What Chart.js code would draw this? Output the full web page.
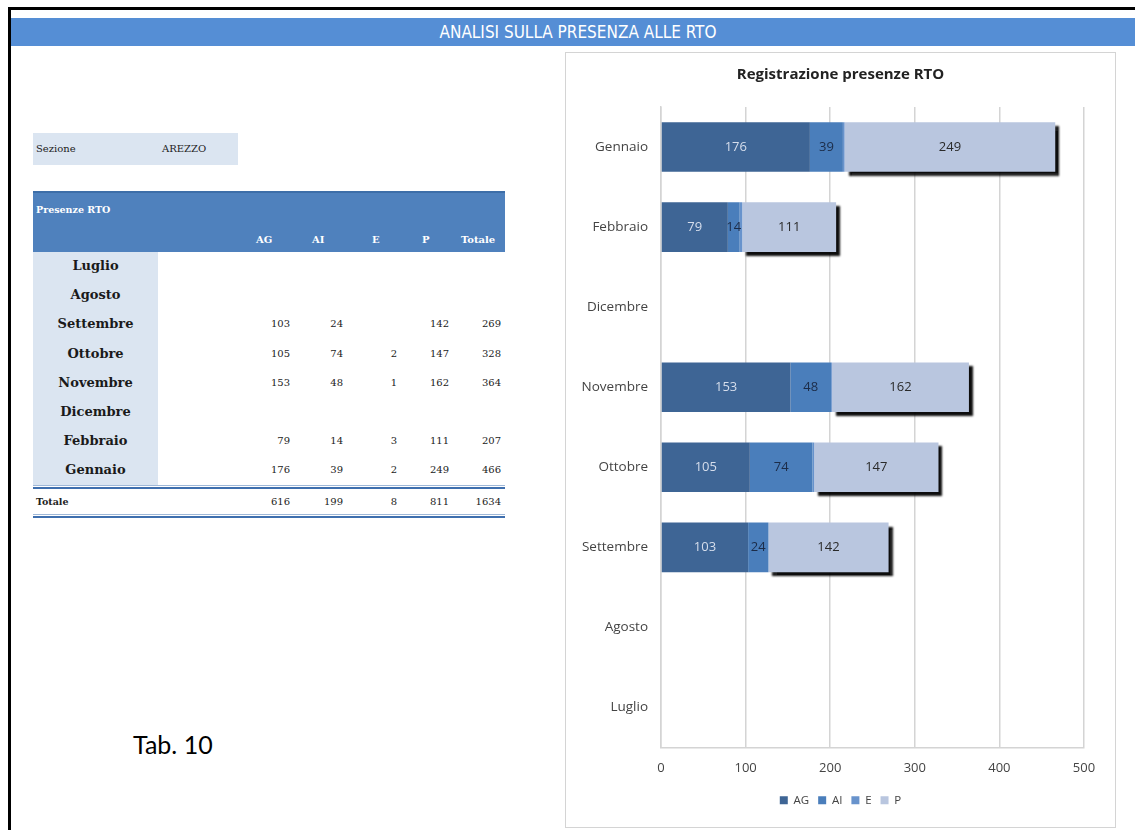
<!DOCTYPE html>
<html>
<head>
<meta charset="utf-8">
<script src="https://cdn.jsdelivr.net/npm/chart.js@4.4.0/dist/chart.umd.min.js"></script>
<style>
  html,body{margin:0;padding:0;background:#fff;}
  body{width:1135px;height:830px;position:relative;overflow:hidden;font-family:"DejaVu Serif",serif;}
  .abs{position:absolute;}
  #topline{left:8px;top:7px;width:1127px;height:3px;background:#000;}
  #leftline{left:8px;top:7px;width:3px;height:823px;background:#000;}
  #banner{left:11px;top:18px;width:1124px;height:28px;background:#558ed5;color:#fff;
    font-family:"Liberation Sans Narrow","DejaVu Sans Condensed","Liberation Sans",sans-serif;font-size:17px;
    line-height:28px;text-align:center;padding-left:10px;box-sizing:border-box;}
  #sez{left:33px;top:133px;width:205px;height:32px;background:#dbe5f1;font-size:10px;color:#222;}
  #sez span{position:absolute;top:10px;}
  #thead{left:33px;top:191px;width:472px;height:61px;background:#4f81bd;border-top:2px solid #3d6ea8;box-sizing:border-box;color:#fff;font-size:9.5px;font-weight:bold;}
  #monthcol{left:33px;top:252px;width:125px;height:233px;background:#dbe5f1;}
  .mon{position:absolute;left:33px;width:125px;text-align:center;font-weight:bold;font-size:13px;color:#1a1a1a;}
  .num{position:absolute;text-align:right;font-size:10px;color:#222;width:40px;}
  .hd{position:absolute;font-size:10px;font-weight:bold;color:#fff;}
  .dline{position:absolute;left:33px;width:472px;height:4px;border-top:1px solid #9fb8d8;border-bottom:2px solid #3f6fae;box-sizing:border-box;}
  #tab{left:133px;top:729px;font-family:Lato,"Open Sans",sans-serif;font-size:25px;color:#000;}
  #chartbox{left:565px;top:52px;width:551px;height:776px;border:1.5px solid #d4d4d4;box-sizing:border-box;}
  #cwrap{left:565px;top:52px;width:551px;height:776px;}
</style>
</head>
<body>
<div class="abs" id="topline"></div>
<div class="abs" id="leftline"></div>
<div class="abs" id="banner">ANALISI SULLA PRESENZA ALLE RTO</div>

<div class="abs" id="sez"><span style="left:3px">Sezione</span><span style="left:129px">AREZZO</span></div>

<div class="abs" id="thead"><span style="position:absolute;left:3px;top:11px;">Presenze RTO</span></div>
<div class="abs" id="monthcol"></div>
<div id="tablebody"></div>

<div class="abs" id="tab">Tab. 10</div>

<div class="abs" id="chartbox"></div>
<div class="abs" id="cwrap"><canvas id="c"></canvas></div>

<script>
// ---- data ----
const months = ["Luglio","Agosto","Settembre","Ottobre","Novembre","Dicembre","Febbraio","Gennaio"];
const seriesNames = ["AG","AI","E","P"];
const AG = [null, null, 103, 105, 153, null, 79, 176];
const AI = [null, null, 24, 74, 48, null, 14, 39];
const E  = [null, null, null, 2, 1, null, 3, 2];
const P  = [null, null, 142, 147, 162, null, 111, 249];
const Totale = [null, null, 269, 328, 364, null, 207, 466];
const totalsRow = [616, 199, 8, 811, 1634];
const xTicks = [0, 100, 200, 300, 400, 500];
const chartTitle = "Registrazione presenze RTO";

// ---- table ----
const tb = document.getElementById('tablebody');
const colRight = [290, 343, 397, 449, 501];
const hdrLeft = [256, 312, 372, 422, 461];
const hdrs = ["AG","AI","E","P","Totale"];
hdrs.forEach((h,i)=>{
  const d=document.createElement('div'); d.className='hd'; d.textContent=h;
  d.style.left=hdrLeft[i]+'px'; d.style.top='234px'; tb.appendChild(d);
});
const cols=[AG,AI,E,P,Totale];
months.forEach((m,r)=>{
  const top = 252 + r*29.2;
  const d=document.createElement('div'); d.className='mon'; d.textContent=m;
  d.style.top=(top+6)+'px'; tb.appendChild(d);
  cols.forEach((arr,c)=>{
    if(arr[r]==null) return;
    const n=document.createElement('div'); n.className='num'; n.textContent=arr[r];
    n.style.left=(colRight[c]-40)+'px'; n.style.top=(top+8)+'px'; tb.appendChild(n);
  });
});
const l1=document.createElement('div'); l1.className='dline'; l1.style.top='485px'; tb.appendChild(l1);
const l2=document.createElement('div'); l2.className='dline'; l2.style.top='514px'; tb.appendChild(l2);
const tl=document.createElement('div'); tl.className='num'; tl.style.textAlign='left'; tl.style.left='36px';
tl.style.top='496px'; tl.style.fontWeight='bold'; tl.style.fontSize='9.5px'; tl.textContent='Totale'; tb.appendChild(tl);
totalsRow.forEach((v,c)=>{
  const n=document.createElement('div'); n.className='num'; n.textContent=v;
  n.style.left=(colRight[c]-40)+'px'; n.style.top='496px'; tb.appendChild(n);
});

// ---- chart ----
const colors = ["#3e6595","#4a7ebb","#6893cc","#b9c6df"];
const labelColors = ["#d6deec","#1c2c48",null,"#2a2a2a"];
const FONT = "'Open Sans', Lato, sans-serif";

const shadowPlugin = {
  id:'shadowP',
  beforeDatasetDraw(chart,args){
    if(args.index===3){ const c=chart.ctx; c.save(); c.shadowColor='rgba(0,0,0,0.95)'; c.shadowOffsetX=4; c.shadowOffsetY=4; c.shadowBlur=2; }
  },
  afterDatasetDraw(chart,args){ if(args.index===3) chart.ctx.restore(); }
};
const labelPlugin = {
  id:'vals',
  afterDatasetsDraw(chart){
    const c=chart.ctx; c.save();
    c.font="13px "+FONT; c.textAlign='center'; c.textBaseline='middle';
    chart.data.datasets.forEach((ds,i)=>{
      if(!labelColors[i]) return;
      const meta=chart.getDatasetMeta(i);
      meta.data.forEach((el,j)=>{
        const v=ds.data[j]; if(v==null) return;
        c.fillStyle=labelColors[i];
        c.fillText(String(v),(el.x+el.base)/2,el.y);
      });
    });
    c.restore();
  }
};

new Chart(document.getElementById('c'),{
  type:'bar',
  data:{
    labels:months,
    datasets:[AG,AI,E,P].map((arr,i)=>({
      label:seriesNames[i], data:arr, backgroundColor:colors[i],
      borderWidth:0, categoryPercentage:1, barPercentage:0.62
    }))
  },
  options:{
    indexAxis:'y', responsive:true, maintainAspectRatio:false, animation:false,
    layout:{padding:{left:0,right:0,top:0,bottom:12}},
    scales:{
      x:{stacked:true,min:0,max:500,
        afterBuildTicks(s){ s.ticks = xTicks.map(v=>({value:v})); },
        afterFit(s){ s.height=38; },
        grid:{color:'#d4d4d4',lineWidth:1.5,drawTicks:false},
        border:{display:true,color:'#d4d4d4',width:1.5},
        ticks:{padding:13,color:'#444',font:{family:FONT,size:13}}
      },
      y:{stacked:true,reverse:true,
        afterFit(s){ s.width=96; },
        grid:{display:false,drawTicks:false},
        border:{display:true,color:'#d4d4d4',width:1.5},
        ticks:{padding:13,color:'#444',font:{family:FONT,size:13.5}}
      },
      yR:{type:'category',position:'right',display:true,
        afterFit(s){ s.width=32; },
        grid:{display:false,drawTicks:false},
        border:{display:false},
        ticks:{display:false}
      }
    },
    plugins:{
      title:{display:true,text:chartTitle,color:'#222',font:{family:FONT,size:15,weight:'bold'},padding:{top:14,bottom:23}},
      legend:{position:'bottom',labels:{usePointStyle:true,pointStyle:'rect',boxWidth:8,boxHeight:8,padding:9,color:'#444',font:{family:FONT,size:11.5}}},
      tooltip:{enabled:false}
    }
  },
  plugins:[shadowPlugin,labelPlugin]
});
</script>
</body>
</html>
